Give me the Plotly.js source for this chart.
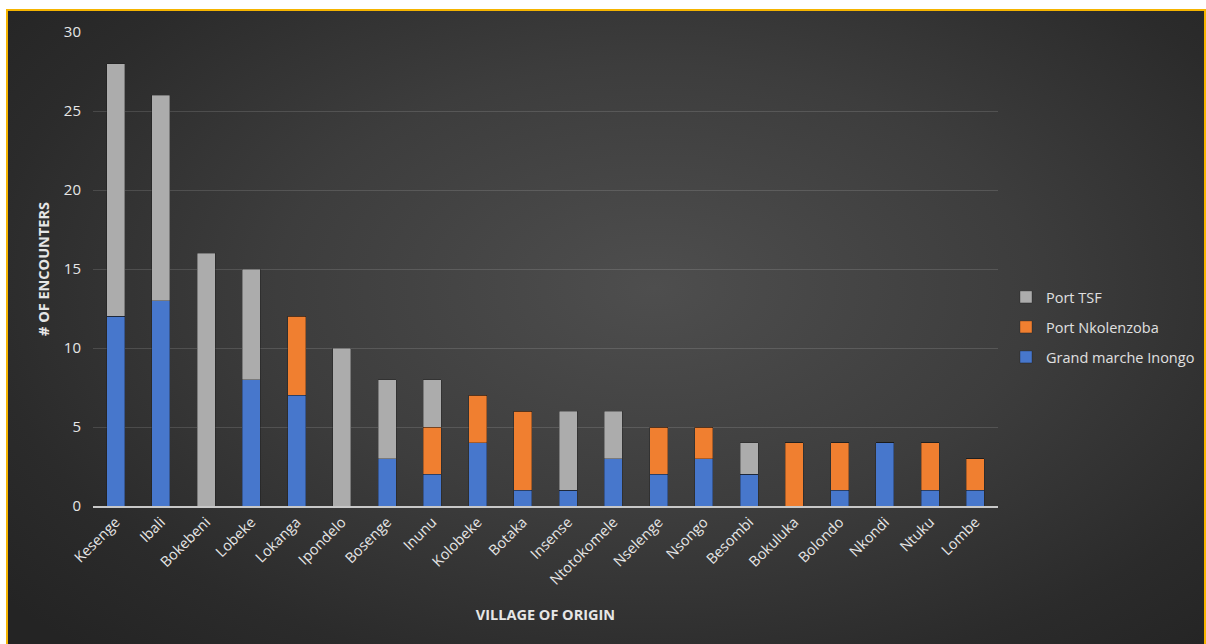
<!DOCTYPE html>
<html>
<head>
<meta charset="utf-8">
<script src="https://cdn.plot.ly/plotly-3.0.1.min.js"></script>
<style>
  html, body { margin: 0; padding: 0; background: #ffffff; width: 1206px; height: 644px; overflow: hidden; }
  #frame { position: absolute; left: 6px; top: 9px; width: 1196px; height: 660px; border: 2px solid #f5b400;
    background: radial-gradient(ellipse 70% 75% at 54% 42%, #4e4e4e 0%, #3d3d3d 45%, #2b2b2b 80%, #242424 100%); }
  #chart { position: absolute; left: 0; top: 0; width: 1206px; height: 644px; }
</style>
</head>
<body>
<div id="frame"></div>
<div id="chart"></div>
<script>
const villages = ["Kesenge","Ibali","Bokebeni","Lobeke","Lokanga","Ipondelo","Bosenge","Inunu","Kolobeke","Botaka","Insense","Ntotokomele","Nselenge","Nsongo","Besombi","Bokuluka","Bolondo","Nkondi","Ntuku","Lombe"];
const grandMarcheInongo = [12,13,0,8,7,0,3,2,4,1,1,3,2,3,2,0,1,4,1,1];
const portNkolenzoba    = [0,0,0,0,5,0,0,3,3,5,0,0,3,2,0,4,3,0,3,2];
const portTSF           = [16,13,16,7,0,10,5,3,0,0,5,3,0,0,2,0,0,0,0,0];
const yTicks = [0,5,10,15,20,25,30];

const font = "'Open Sans', 'Liberation Sans', sans-serif";
const lineStyle = {color: 'rgba(20,20,20,0.55)', width: 0.6};

const traces = [
  {type:'bar', name:'Grand marche Inongo', x:villages, y:grandMarcheInongo, marker:{color:'#4777cc', line:lineStyle}, legend:'legend3'},
  {type:'bar', name:'Port Nkolenzoba', x:villages, y:portNkolenzoba, marker:{color:'#f07f30', line:lineStyle}, legend:'legend2'},
  {type:'bar', name:'Port TSF', x:villages, y:portTSF, marker:{color:'#acacac', line:lineStyle}, legend:'legend'}
];

const legendBase = {xref:'container', yref:'container', x:1006/1206, xanchor:'left', yanchor:'middle',
  bgcolor:'rgba(0,0,0,0)', font:{family:font, size:14.5, color:'#e0e0e0'}, itemwidth:30};

const layout = {
  width:1206, height:644,
  margin:{l:93, r:208, t:32, b:138},
  paper_bgcolor:'rgba(0,0,0,0)', plot_bgcolor:'rgba(0,0,0,0)',
  barmode:'stack', bargap:0.6,
  font:{family:font, color:'#e6e6e6'},
  showlegend:true,
  legend: Object.assign({}, legendBase, {y:1-297/644}),
  legend2: Object.assign({}, legendBase, {y:1-327/644}),
  legend3: Object.assign({}, legendBase, {y:1-357/644}),
  xaxis:{
    tickangle:-45, tickfont:{family:font, size:14.5, color:'#e6e6e6'},
    showline:true, linecolor:'#c8c8c8', linewidth:2, ticks:'',
    title:{text:'<b>VILLAGE OF ORIGIN</b>', font:{family:font, size:14.5, color:'#e6e6e6'}, standoff:22},
    automargin:false
  },
  yaxis:{
    range:[0,30], tickvals:yTicks, ticktext:yTicks.map(String),
    tickfont:{family:font, size:15, color:'#e6e6e6'},
    gridcolor:'rgba(255,255,255,0.13)', gridwidth:1, zeroline:false, showline:false,
    ticks:'', ticklen:0, ticklabelstandoff:11,
    title:{text:'<b># OF ENCOUNTERS</b>', font:{family:font, size:14.5, color:'#e6e6e6'}, standoff:10},
    automargin:false
  }
};

Plotly.newPlot('chart', traces, layout, {displayModeBar:false, staticPlot:true});
</script>
</body>
</html>
